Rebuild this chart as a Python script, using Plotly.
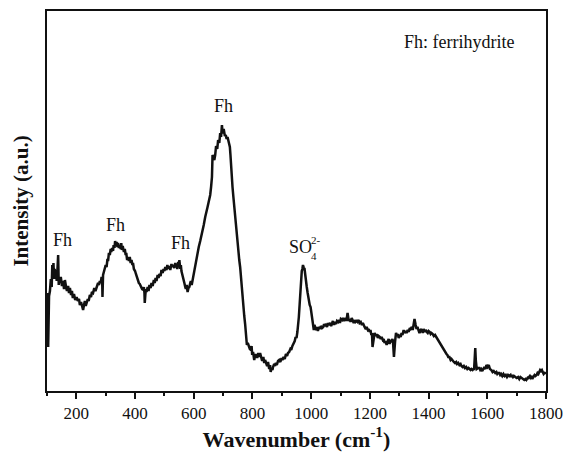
import plotly.graph_objects as go

# Raman spectrum: wavenumber (cm-1) and intensity (a.u.)
wavenumber = [
    101, 104, 107, 110, 113, 116, 118, 120, 122, 124, 126, 129, 131, 133, 136, 138, 140, 141,
    144, 147, 151, 155, 158, 161, 165, 168, 172, 175, 178, 182, 185, 188, 192, 196, 201, 205,
    209, 212, 216, 220, 223, 226, 229, 232, 235, 239, 242, 246, 250, 253, 257, 261, 265, 270,
    274, 277, 280, 283, 286, 288, 289, 291, 293, 296, 300, 303, 306, 308, 311, 314, 317, 319,
    322, 325, 327, 330, 332, 334, 337, 340, 342, 345, 348, 351, 353, 355, 358, 362, 365, 368,
    370, 373, 376, 379, 382, 385, 388, 391, 393, 396, 400, 403, 406, 410, 413, 416, 420, 424,
    427, 430, 432, 433, 435, 437, 439, 443, 446, 449, 453, 456, 460, 464, 467, 470, 473, 477,
    480, 483, 487, 490, 494, 497, 500, 503, 507, 510, 514, 517, 520, 524, 527, 530, 534, 537,
    539, 542, 544, 547, 549, 551, 554, 556, 558, 560, 562, 565, 568, 571, 573, 576, 579, 582,
    585, 588, 590, 593, 596, 600, 605, 609, 613, 617, 622, 626, 630, 634, 639, 643, 647, 650,
    653, 656, 659, 662, 664, 667, 670, 673, 676, 680, 683, 687, 690, 693, 696, 698, 700, 702,
    704, 706, 709, 712, 715, 718, 721, 723, 725, 727, 730, 732, 735, 738, 741, 743, 746, 749,
    752, 755, 758, 760, 763, 766, 769, 772, 775, 777, 779, 781, 784, 788, 791, 795, 797, 799,
    802, 806, 809, 813, 816, 820, 823, 826, 830, 833, 837, 840, 843, 847, 850, 853, 857, 860,
    862, 865, 868, 870, 874, 877, 879, 883, 887, 891, 895, 899, 902, 906, 910, 914, 918, 921,
    925, 929, 932, 936, 940, 944, 947, 950, 953, 956, 958, 961, 964, 966, 968, 970, 972, 974,
    975, 977, 979, 981, 983, 985, 988, 990, 992, 995, 998, 1001, 1004, 1006, 1009, 1011, 1014,
    1017, 1020, 1023, 1026, 1030, 1033, 1037, 1041, 1044, 1046, 1050, 1054, 1057, 1060, 1064,
    1068, 1071, 1074, 1078, 1081, 1085, 1088, 1092, 1095, 1098, 1101, 1105, 1108, 1112, 1115,
    1117, 1120, 1122, 1124, 1128, 1131, 1134, 1138, 1141, 1145, 1148, 1151, 1155, 1158, 1162,
    1165, 1169, 1173, 1176, 1179, 1182, 1186, 1189, 1193, 1196, 1199, 1202, 1205, 1207, 1209,
    1213, 1216, 1220, 1223, 1227, 1230, 1234, 1237, 1240, 1244, 1247, 1250, 1253, 1257, 1260,
    1264, 1267, 1271, 1274, 1277, 1279, 1280, 1282, 1286, 1289, 1293, 1296, 1298, 1302, 1305,
    1308, 1311, 1315, 1318, 1322, 1325, 1329, 1332, 1336, 1339, 1343, 1346, 1349, 1352, 1356,
    1359, 1362, 1366, 1369, 1373, 1376, 1380, 1383, 1387, 1390, 1394, 1397, 1400, 1404, 1407,
    1410, 1414, 1418, 1422, 1426, 1430, 1434, 1438, 1441, 1445, 1449, 1453, 1457, 1461, 1464,
    1467, 1471, 1475, 1478, 1482, 1486, 1490, 1494, 1497, 1501, 1505, 1509, 1512, 1516, 1520,
    1524, 1528, 1532, 1536, 1540, 1543, 1546, 1550, 1553, 1555, 1557, 1559, 1561, 1564, 1569,
    1573, 1576, 1579, 1583, 1587, 1590, 1594, 1597, 1601, 1605, 1609, 1614, 1618, 1622, 1627,
    1631, 1634, 1637, 1641, 1644, 1647, 1651, 1655, 1659, 1663, 1667, 1671, 1675, 1679, 1681,
    1685, 1688, 1691, 1695, 1700, 1705, 1709, 1713, 1718, 1722, 1726, 1730, 1733, 1737, 1740,
    1742, 1745, 1749, 1752, 1755, 1758, 1761, 1764, 1768, 1771, 1774, 1777, 1780, 1783, 1786,
    1789, 1792, 1795, 1797, 1799,
]
intensity = [
    98, 44, 95, 100, 112, 104, 126, 118, 128, 112, 122, 115, 121, 110, 124, 136, 106, 112,
    108, 114, 105, 110, 102, 111, 104, 100, 105, 98, 103, 96, 100, 93, 97, 91, 94, 90,
    92, 86, 89, 84, 81, 86, 90, 85, 88, 92, 90, 96, 94, 99, 98, 103, 100, 104,
    108, 106, 110, 108, 114, 110, 94, 116, 118, 121, 126, 124, 132, 130, 138, 136, 142, 139,
    143, 140, 146, 143, 150, 145, 149, 144, 148, 143, 146, 142, 148, 141, 145, 139, 142, 136,
    138, 131, 134, 130, 134, 128, 131, 126, 128, 122, 120, 117, 114, 111, 108, 107, 104, 102,
    101, 104, 98, 88, 96, 102, 99, 104, 100, 106, 103, 108, 105, 111, 108, 113, 110, 116,
    113, 117, 115, 121, 118, 122, 120, 124, 121, 126, 122, 125, 121, 127, 124, 126, 123, 128,
    124, 127, 122, 129, 124, 131, 122, 126, 120, 118, 114, 111, 108, 104, 102, 106, 99, 103,
    104, 108, 110, 106, 111, 117, 126, 132, 138, 144, 150, 155, 158, 166, 174, 178, 184, 188,
    191, 196, 204, 214, 236, 232, 231, 236, 245, 242, 251, 248, 258, 254, 266, 259, 258, 262,
    258, 255, 256, 252, 254, 250, 247, 244, 236, 224, 214, 204, 194, 184, 170, 163, 156, 148,
    140, 131, 124, 116, 104, 94, 84, 75, 67, 61, 54, 46, 48, 44, 42, 41, 45, 36,
    39, 31, 36, 36, 33, 38, 34, 38, 33, 30, 34, 28, 31, 26, 25, 29, 22, 26,
    19, 23, 21, 24, 27, 25, 28, 26, 30, 31, 29, 33, 31, 34, 32, 37, 35, 38,
    39, 42, 41, 45, 47, 50, 54, 53, 59, 66, 74, 88, 104, 112, 120, 122, 126, 124,
    121, 123, 117, 114, 110, 104, 98, 94, 90, 86, 84, 78, 74, 68, 61, 66, 64,
    61, 64, 60, 64, 62, 65, 63, 64, 67, 65, 67, 64, 68, 66, 68, 65,
    67, 70, 66, 69, 67, 70, 69, 71, 68, 72, 71, 73, 70, 72, 73,
    70, 74, 78, 70, 72, 69, 73, 71, 68, 71, 69, 70, 69, 71, 68,
    69, 66, 68, 65, 64, 62, 64, 61, 62, 59, 61, 56, 58, 44, 55,
    58, 55, 57, 53, 55, 54, 52, 54, 51, 52, 48, 50, 46, 49, 52,
    47, 51, 50, 52, 48, 44, 34, 50, 58, 55, 57, 53, 56, 54, 58,
    56, 61, 58, 60, 58, 61, 59, 63, 62, 64, 61, 66, 72, 66, 62,
    64, 60, 58, 61, 62, 58, 62, 59, 61, 59, 58, 60, 59, 57, 58,
    57, 55, 56, 54, 52, 50, 48, 47, 44, 43, 40, 39, 37, 36, 34,
    34, 31, 32, 30, 29, 28, 29, 27, 28, 26, 27, 25, 24, 25, 23,
    24, 22, 23, 22, 21, 22, 21, 22, 22, 32, 43, 30, 22, 23, 23,
    21, 22, 20, 22, 24, 22, 26, 24, 26, 22, 21, 19, 20, 18, 19,
    17, 18, 18, 16, 17, 15, 17, 15, 16, 14, 16, 15, 16, 14, 16,
    14, 15, 14, 13, 14, 12, 14, 13, 12, 11, 12, 11, 13, 12, 14,
    15, 13, 14, 13, 14, 16, 15, 16, 18, 17, 19, 21, 20, 21, 19,
    17, 18, 18, 19, 20,
]

# Peak labels: (text, wavenumber, intensity)
fh_labels = ["Fh", "Fh", "Fh", "Fh"]
fh_x = [154, 335, 555, 701]
fh_y = [151, 166, 148, 285]

x_ticks = [200, 400, 600, 800, 1000, 1200, 1400, 1600, 1800]

serif = "'Times New Roman', 'Liberation Serif', 'DejaVu Serif', Times, serif"
ink = "#111111"

fig = go.Figure()
fig.add_trace(go.Scatter(
    x=wavenumber, y=intensity, mode="lines",
    line=dict(color=ink, width=2.5),
    showlegend=False, hoverinfo="skip",
))

for t, xv, yv in zip(fh_labels, fh_x, fh_y):
    fig.add_annotation(x=xv, y=yv, text=t, showarrow=False,
                       font=dict(family=serif, size=18, color=ink))

# Sulfate band label with stacked super/subscript
fig.add_annotation(x=998, y=144, text="SO", showarrow=False, xanchor="right",
                   xshift=2, borderpad=0, font=dict(family=serif, size=18, color=ink))
fig.add_annotation(x=998, y=144, text="2-", showarrow=False, xanchor="left",
                   xshift=-1, yshift=7, borderpad=0, font=dict(family=serif, size=11, color=ink))
fig.add_annotation(x=998, y=144, text="4", showarrow=False, xanchor="left",
                   xshift=-1, yshift=-9, borderpad=0, font=dict(family=serif, size=11, color=ink))

fig.add_annotation(x=1503, y=349, text="Fh: ferrihydrite", showarrow=False,
                   font=dict(family=serif, size=18, color=ink))

fig.update_layout(
    width=564, height=456,
    margin=dict(l=47, r=18, t=11, b=65),
    paper_bgcolor="white", plot_bgcolor="white",
    font=dict(family=serif, size=18, color=ink),
    xaxis=dict(
        range=[100, 1800], tickvals=x_ticks, ticks="outside", ticklen=6, tickwidth=1.5,
        tickcolor=ink, showline=True, linecolor=ink, linewidth=2, mirror=True,
        showgrid=False, zeroline=False, automargin=False, ticklabeloverflow="allow",
        tickfont=dict(family=serif, size=17, color=ink),
        minor=dict(dtick=100, tick0=100, ticks="outside", ticklen=3, tickcolor=ink, showgrid=False),
        title=dict(text="<b>Wavenumber (cm<sup>-1</sup>)</b>",
                   font=dict(family=serif, size=22, color=ink), standoff=5),
    ),
    yaxis=dict(
        range=[0, 380], showticklabels=False, ticks="", showline=True, linecolor=ink,
        linewidth=2, mirror=True, showgrid=False, zeroline=False, automargin=False,
        title=dict(text="<b>Intensity (a.u.)</b>",
                   font=dict(family=serif, size=21, color=ink), standoff=11),
    ),
)

fig.write_html("out.html")
